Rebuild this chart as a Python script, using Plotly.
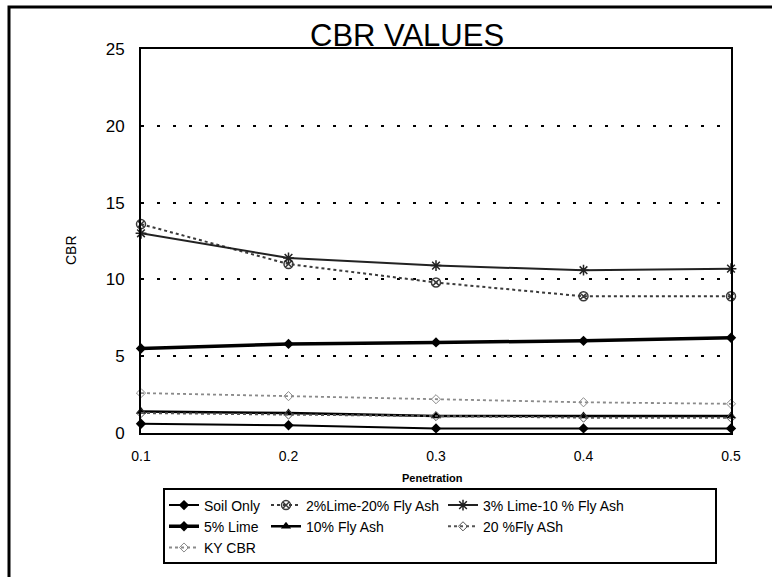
import plotly.graph_objects as go

# Penetration depths (in.)
penetration = [0.1, 0.2, 0.3, 0.4, 0.5]

# CBR per mix
soil_only = [0.6, 0.5, 0.3, 0.3, 0.3]
lime2_fa20 = [13.6, 11.0, 9.8, 8.9, 8.9]
lime3_fa10 = [13.0, 11.4, 10.9, 10.6, 10.7]
lime5 = [5.5, 5.8, 5.9, 6.0, 6.2]
fa10 = [1.4, 1.3, 1.1, 1.1, 1.1]
fa20 = [1.3, 1.2, 1.1, 1.0, 1.0]
ky_cbr = [2.6, 2.4, 2.2, 2.0, 1.9]

y_ticks = [0, 5, 10, 15, 20, 25]
x_ticks = [0.1, 0.2, 0.3, 0.4, 0.5]

W, H = 772, 577
L, R, T, B = 141, 731, 49, 433   # plot area in pixels


def px(x):
    return (x - L) / (R - L)


def py(y):
    return (B - y) / (B - T)


series = [
    # name, values, line, marker, legend group
    ("Soil Only", soil_only, dict(color="black", width=2),
     dict(symbol="diamond", size=8, color="black"), "legend"),
    ("5% Lime", lime5, dict(color="black", width=3.5),
     dict(symbol="diamond", size=8, color="black"), "legend"),
    ("KY CBR", ky_cbr, dict(color="#8a8a8a", width=1.8, dash="dot"),
     dict(symbol="diamond-open", size=7, color="#8a8a8a"), "legend"),
    ("2%Lime-20% Fly Ash", lime2_fa20, dict(color="#3a3a3a", width=2, dash="dot"),
     dict(symbol="circle-x-open", size=9, color="#3a3a3a", line=dict(width=1.5)), "legend2"),
    ("10% Fly Ash", fa10, dict(color="black", width=2.5),
     dict(symbol="triangle-up", size=9, color="black"), "legend2"),
    ("3% Lime-10 % Fly Ash", lime3_fa10, dict(color="#222222", width=2),
     dict(symbol="asterisk-open", size=9, color="#222222", line=dict(width=1.5)), "legend3"),
    ("20 %Fly ASh", fa20, dict(color="#555555", width=2, dash="dot"),
     dict(symbol="diamond-open", size=7, color="#555555"), "legend3"),
]

fig = go.Figure()
for name, vals, line, marker, leg in series:
    fig.add_trace(go.Scatter(
        x=penetration, y=vals, name=name, mode="lines+markers",
        line=line, marker=marker, legend=leg, cliponaxis=False,
    ))

legend_font = dict(family="Liberation Sans, Arial, sans-serif", size=14, color="black")
legend_common = dict(
    orientation="v", xanchor="left", yanchor="top", y=py(489.5),
    font=legend_font, bgcolor="rgba(0,0,0,0)", borderwidth=0,
    itemclick=False, itemdoubleclick=False, tracegroupgap=0,
)

fig.update_layout(
    width=W, height=H,
    margin=dict(l=L, r=W - R, t=T, b=H - B),
    paper_bgcolor="white", plot_bgcolor="white",
    showlegend=True,
    legend=dict(x=px(164), **legend_common),
    legend2=dict(x=px(266), **legend_common),
    legend3=dict(x=px(443), **legend_common),
    xaxis=dict(
        range=[0.1, 0.5], tickvals=x_ticks, ticktext=[f"{v:.1f}" for v in x_ticks],
        showgrid=False, zeroline=False, showline=True, mirror=True,
        linecolor="black", linewidth=2, ticks="", ticklabelstandoff=9,
        tickfont=dict(family="Liberation Sans, Arial, sans-serif", size=14, color="black"),
    ),
    yaxis=dict(
        range=[0, 25], tickvals=y_ticks,
        showgrid=True, gridcolor="black", gridwidth=1.5, griddash="3px,13px",
        zeroline=False, showline=True, mirror=True,
        linecolor="black", linewidth=2, ticks="", ticklabelstandoff=11,
        tickfont=dict(family="Liberation Sans, Arial, sans-serif", size=17, color="black"),
    ),
    annotations=[
        dict(text="CBR VALUES", xref="paper", yref="paper", x=px(407), y=1,
             xanchor="center", yanchor="bottom", yshift=-6, showarrow=False,
             font=dict(family="Liberation Sans, Arial, sans-serif", size=31, color="black")),
        dict(text="CBR", xref="paper", yref="paper", x=px(71), y=py(250),
             xanchor="center", yanchor="middle", textangle=-90, showarrow=False,
             font=dict(family="Liberation Sans, Arial, sans-serif", size=14, color="black")),
        dict(text="<b>Penetration</b>", xref="paper", yref="paper", x=px(432), y=py(478),
             xanchor="center", yanchor="middle", showarrow=False,
             font=dict(family="Liberation Sans, Arial, sans-serif", size=11, color="black")),
    ],
    shapes=[
        # legend box
        dict(type="rect", xref="paper", yref="paper",
             x0=px(164), x1=px(716), y0=py(563), y1=py(489),
             line=dict(color="black", width=2), fillcolor="rgba(0,0,0,0)", layer="above"),
        # outer chart frame (left and top edges)
        dict(type="path", xref="paper", yref="paper",
             path=f"M {px(9)},{py(577)} L {px(9)},{py(7)} L {px(772)},{py(7)}",
             line=dict(color="black", width=3)),
    ],
)

fig.write_html("out.html")
